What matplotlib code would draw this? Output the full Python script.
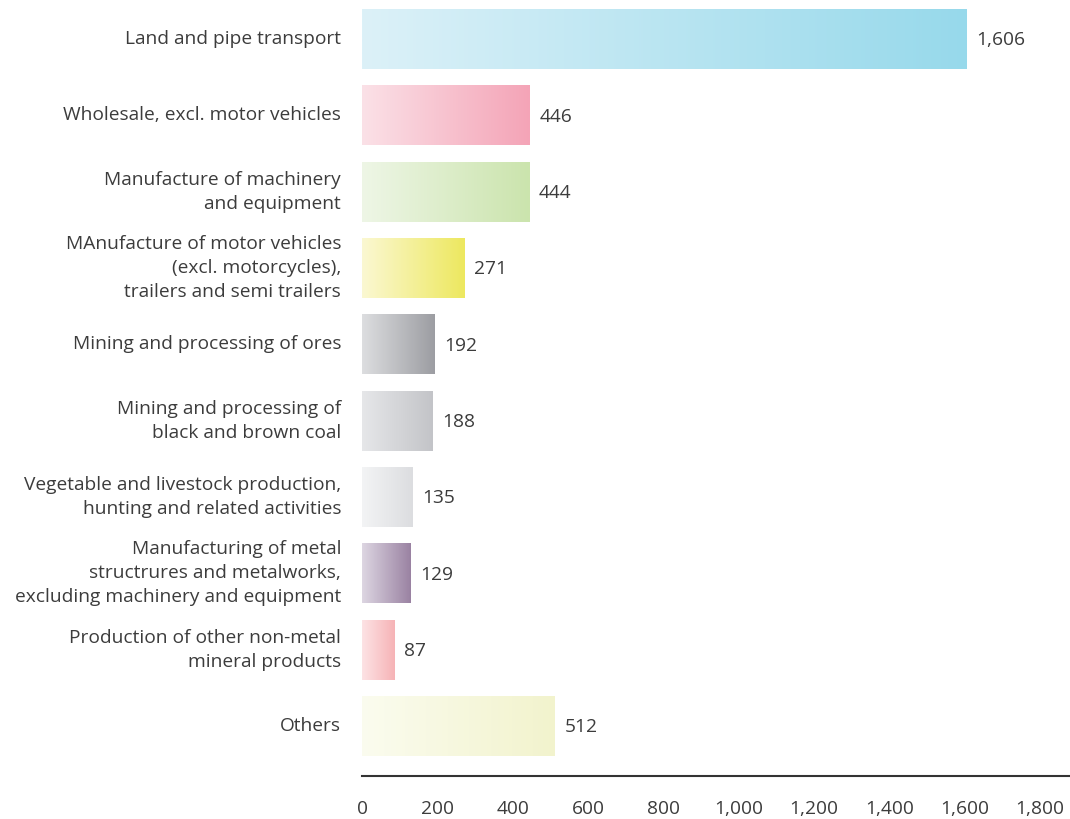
import numpy as np
import matplotlib
matplotlib.use('Agg')
import matplotlib.pyplot as plt
from matplotlib.colors import LinearSegmentedColormap


categories = [
    'Land and pipe transport',
    'Wholesale, excl. motor vehicles',
    'Manufacture of machinery\nand equipment',
    'MAnufacture of motor vehicles\n(excl. motorcycles),\ntrailers and semi trailers',
    'Mining and processing of ores',
    'Mining and processing of\nblack and brown coal',
    'Vegetable and livestock production,\nhunting and related activities',
    'Manufacturing of metal\nstructrures and metalworks,\nexcluding machinery and equipment',
    'Production of other non-metal\nmineral products',
    'Others',
]
values = [1606, 446, 444, 271, 192, 188, 135, 129, 87, 512]
ticks = [0, 200, 400, 600, 800, 1000, 1200, 1400, 1600, 1800]

# left / right colour of each bar's gradient
grad_left = ['#dcf1f8', '#fbe1e7', '#eef6e6', '#fbf8d2', '#dddee0',
             '#e6e7e9', '#f3f4f5', '#ddd6e2', '#fde3e5', '#fbfcef']
grad_right = ['#97d9eb', '#f4a4b7', '#cbe4ad', '#ede85f', '#9c9da2',
              '#c3c4c8', '#dcdde0', '#9a82a2', '#f6b3b6', '#f2f3cd']

plt.rcParams['font.family'] = ['Open Sans', 'DejaVu Sans']
txt = '#3c3c3c'
fs = 13.8

fig = plt.figure(figsize=(10.7, 8.19), dpi=100)
ax = fig.add_axes([362 / 1070, 43 / 819, 708 / 1070, 776 / 819])

h = 0.786
ramp = np.linspace(0, 1, 256).reshape(1, -1)
for i, v in enumerate(values):
    cmap = LinearSegmentedColormap.from_list('g%d' % i, [grad_left[i], grad_right[i]])
    ax.imshow(ramp, cmap=cmap, aspect='auto', interpolation='bilinear',
              extent=[0, v, i + h / 2, i - h / 2], zorder=2)
    ax.annotate('{:,}'.format(v), xy=(v, i), xytext=(7, -1), textcoords='offset points',
                ha='left', va='center', fontsize=fs, color=txt)

ax.set_xlim(0, 1800 * 708 / 678)
ax.set_ylim(9.655, -0.511)
ax.set_yticks(range(len(categories)))
ax.set_yticklabels(categories, fontsize=fs, color=txt, linespacing=1.42, va='center')
ax.set_xticks(ticks)
ax.set_xticklabels(['{:,}'.format(t) for t in ticks], fontsize=fs, color=txt)
ax.tick_params(axis='y', length=0, pad=15)
ax.tick_params(axis='x', length=0, pad=17)

for s in ['top', 'right', 'left']:
    ax.spines[s].set_visible(False)
ax.spines['bottom'].set_color('#333333')
ax.spines['bottom'].set_linewidth(1.5)

plt.savefig('out.png', dpi=100)
